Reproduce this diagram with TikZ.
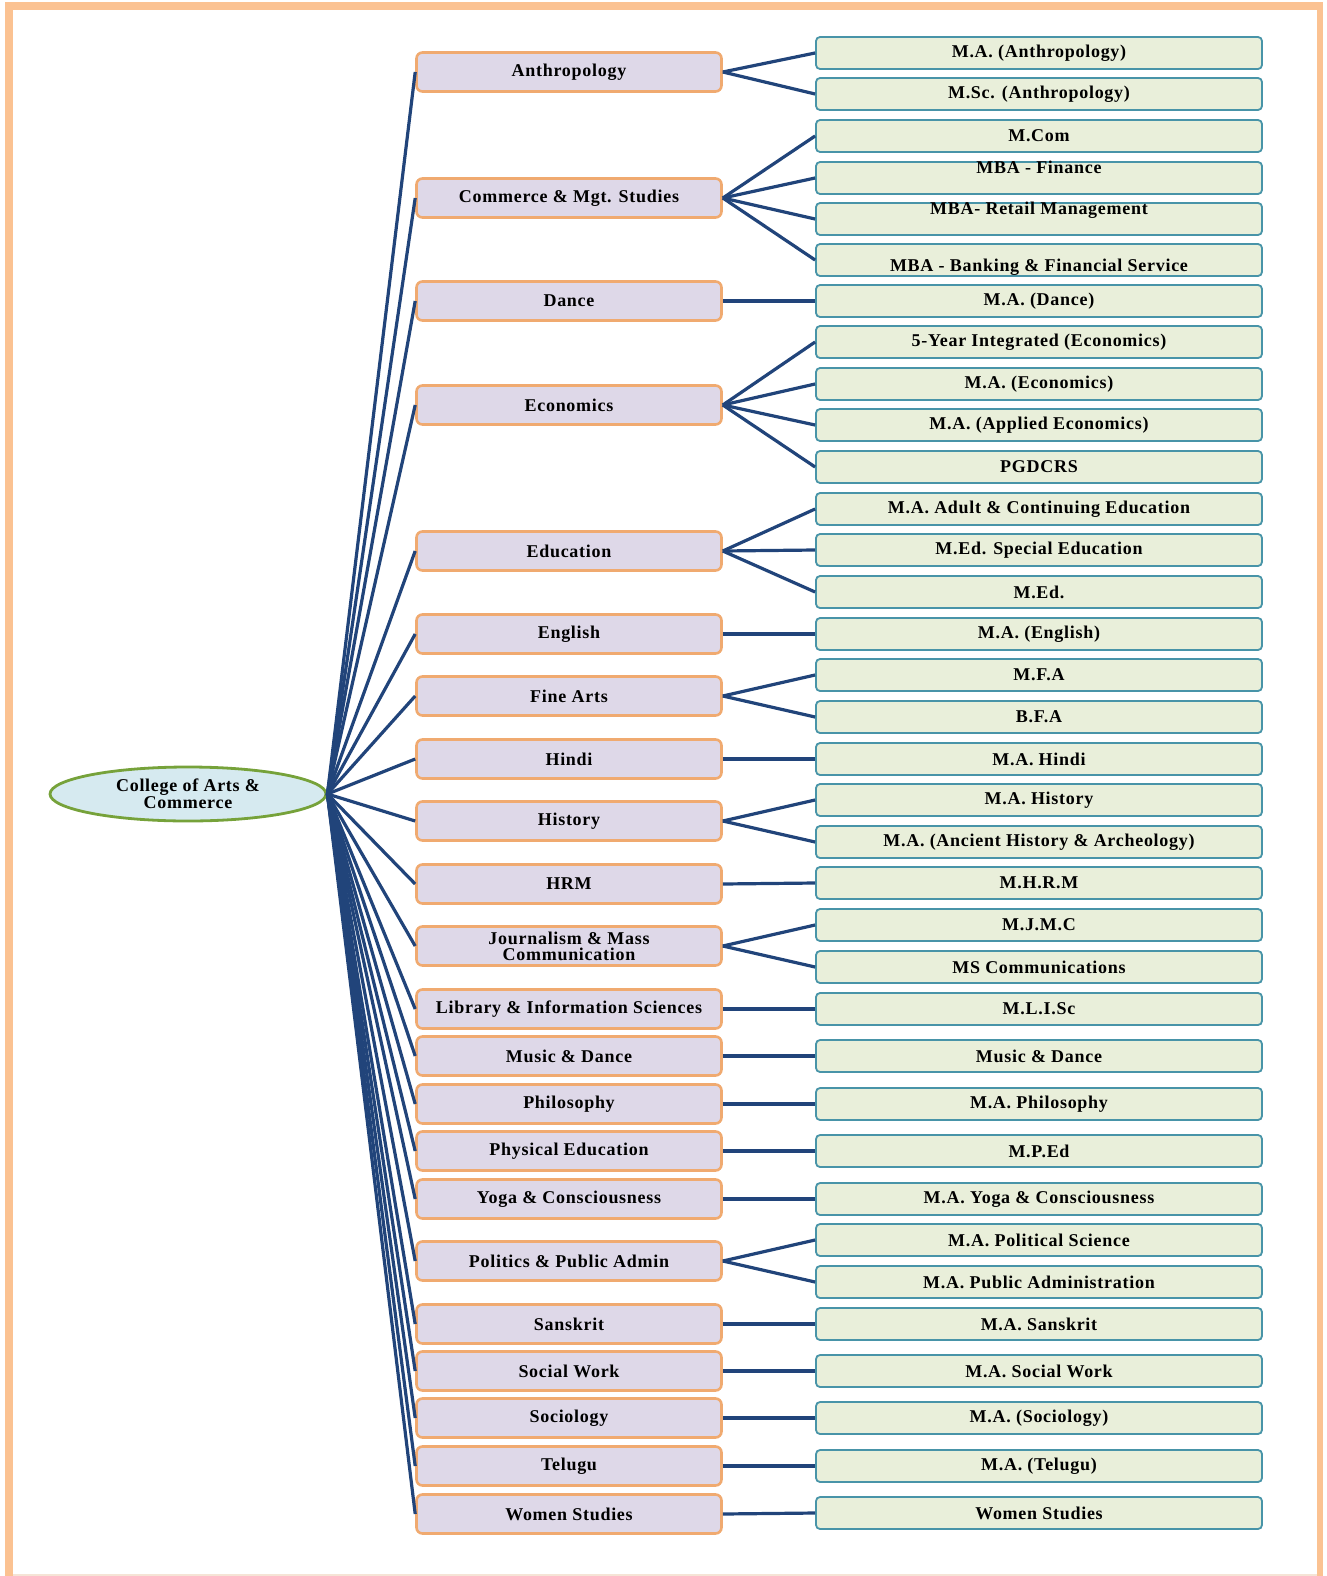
\documentclass[tikz,border=0pt]{standalone}
\usepackage{fontspec}
\setmainfont{Liberation Serif}[LetterSpace=4]
\usetikzlibrary{shapes.geometric}
\definecolor{frameor}{RGB}{251,194,146}
\definecolor{framefaint}{RGB}{245,228,214}
\definecolor{deptfill}{RGB}{222,216,232}
\definecolor{deptdraw}{RGB}{240,170,112}
\definecolor{progfill}{RGB}{233,239,218}
\definecolor{progdraw}{RGB}{72,148,168}
\definecolor{linkc}{RGB}{33,68,122}
\definecolor{rootfill}{RGB}{214,234,240}
\definecolor{rootdraw}{RGB}{118,162,58}
\begin{document}
\begin{tikzpicture}[x=1pt,y=-1pt,
  dept/.style={draw=deptdraw, fill=deptfill, line width=2.6pt, rounded corners=6pt,
    minimum width=305pt, minimum height=39pt, inner sep=0pt,
    font=\fontsize{18}{16}\selectfont\bfseries, align=center},
  prog/.style={draw=progdraw, fill=progfill, line width=1.8pt, rounded corners=4pt,
    minimum width=446pt, minimum height=32pt, inner sep=0pt,
    font=\fontsize{18}{14}\selectfont\bfseries},
  progtext/.style={font=\fontsize{18}{14}\selectfont\bfseries, inner sep=0pt},
  rootnode/.style={ellipse, draw=rootdraw, fill=rootfill, line width=2.8pt,
    minimum width=276pt, minimum height=54pt, inner sep=0pt,
    font=\fontsize{18}{17}\selectfont\bfseries, align=center},
  link/.style={draw=linkc, line width=3.2pt},
]
\useasboundingbox (0,0) rectangle (1326,1576);
% frame
\fill[frameor] (5,2) rectangle (1323,10);
\fill[frameor] (5,2) rectangle (13,1576);
\fill[frameor] (1317,2) rectangle (1323,1576);
\draw[framefaint, line width=1.5pt] (13,1575) -- (1317,1575);

% root
\node[rootnode] (root) at (188,794) {College of Arts \&\\Commerce};

% departments
\node[dept] (d1)  at (569,72)   {Anthropology};
\node[dept] (d2)  at (569,198)  {Commerce \& Mgt. Studies};
\node[dept] (d3)  at (569,301)  {Dance};
\node[dept] (d4)  at (569,405)  {Economics};
\node[dept] (d5)  at (569,551)  {Education};
\node[dept] (d6)  at (569,634)  {English};
\node[dept] (d7)  at (569,696)  {Fine Arts};
\node[dept] (d8)  at (569,759)  {Hindi};
\node[dept] (d9)  at (569,821)  {History};
\node[dept] (d10) at (569,884)  {HRM};
\node[dept] (d11) at (569,946)  {Journalism \& Mass\\Communication};
\node[dept] (d12) at (569,1009) {Library \& Information Sciences};
\node[dept] (d13) at (569,1056) {Music \& Dance};
\node[dept] (d14) at (569,1104) {Philosophy};
\node[dept] (d15) at (569,1151) {Physical Education};
\node[dept] (d16) at (569,1199) {Yoga \& Consciousness};
\node[dept] (d17) at (569,1261) {Politics \& Public Admin};
\node[dept] (d18) at (569,1324) {Sanskrit};
\node[dept] (d19) at (569,1371) {Social Work};
\node[dept] (d20) at (569,1418) {Sociology};
\node[dept] (d21) at (569,1466) {Telugu};
\node[dept] (d22) at (569,1514) {Women Studies};

% programmes
\node[prog] (p1)  at (1039,53)   {M.A. (Anthropology)};
\node[prog] (p2)  at (1039,94)   {M.Sc. (Anthropology)};
\node[prog] (p3)  at (1039,136)  {M.Com};
\node[prog, label={[progtext, yshift=11pt]center:MBA - Finance}] (p4) at (1039,178) {};
\node[prog, label={[progtext, yshift=9pt]center:MBA- Retail Management}] (p5) at (1039,219) {};
\node[prog, label={[progtext, yshift=-7pt]center:MBA - Banking \& Financial Service}] (p6) at (1039,260) {};
\node[prog] (p7)  at (1039,301)  {M.A. (Dance)};
\node[prog] (p8)  at (1039,342)  {5-Year Integrated (Economics)};
\node[prog] (p9)  at (1039,384)  {M.A. (Economics)};
\node[prog] (p10) at (1039,425)  {M.A. (Applied Economics)};
\node[prog] (p11) at (1039,467)  {PGDCRS};
\node[prog] (p12) at (1039,509)  {M.A. Adult \& Continuing Education};
\node[prog] (p13) at (1039,550)  {M.Ed. Special Education};
\node[prog] (p14) at (1039,592)  {M.Ed.};
\node[prog] (p15) at (1039,634)  {M.A. (English)};
\node[prog] (p16) at (1039,675)  {M.F.A};
\node[prog] (p17) at (1039,717)  {B.F.A};
\node[prog] (p18) at (1039,759)  {M.A. Hindi};
\node[prog] (p19) at (1039,800)  {M.A. History};
\node[prog] (p20) at (1039,842)  {M.A. (Ancient History \& Archeology)};
\node[prog] (p21) at (1039,883)  {M.H.R.M};
\node[prog] (p22) at (1039,925)  {M.J.M.C};
\node[prog] (p23) at (1039,967)  {MS Communications};
\node[prog] (p24) at (1039,1009) {M.L.I.Sc};
\node[prog] (p25) at (1039,1056) {Music \& Dance};
\node[prog] (p26) at (1039,1104) {M.A. Philosophy};
\node[prog] (p27) at (1039,1151) {M.P.Ed};
\node[prog] (p28) at (1039,1199) {M.A. Yoga \& Consciousness};
\node[prog] (p29) at (1039,1240) {M.A. Political Science};
\node[prog] (p30) at (1039,1282) {M.A. Public Administration};
\node[prog] (p31) at (1039,1324) {M.A. Sanskrit};
\node[prog] (p32) at (1039,1371) {M.A. Social Work};
\node[prog] (p33) at (1039,1418) {M.A. (Sociology)};
\node[prog] (p34) at (1039,1466) {M.A. (Telugu)};
\node[prog] (p35) at (1039,1513) {Women Studies};

% root to departments
\foreach \d in {d1,d2,d3,d4,d5,d6,d7,d8,d9,d10,d11,d12,d13,d14,d15,d16,d17,d18,d19,d20,d21,d22}
  \draw[link] (root.east) -- (\d.west);

% departments to programmes
\foreach \d/\p in {d1/p1,d1/p2,d2/p3,d2/p4,d2/p5,d2/p6,d3/p7,d4/p8,d4/p9,d4/p10,d4/p11,
  d5/p12,d5/p13,d5/p14,d6/p15,d7/p16,d7/p17,d8/p18,d9/p19,d9/p20,d10/p21,d11/p22,d11/p23,
  d12/p24,d13/p25,d14/p26,d15/p27,d16/p28,d17/p29,d17/p30,d18/p31,d19/p32,d20/p33,d21/p34,d22/p35}
  \draw[link] (\d.east) -- (\p.west);
\end{tikzpicture}
\end{document}
